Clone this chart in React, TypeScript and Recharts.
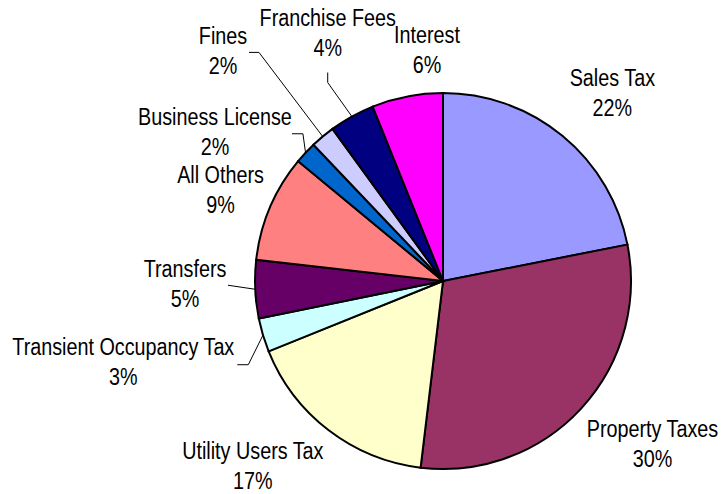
import React from "react";
import { PieChart, Pie, Cell } from "recharts";

const categories = [
  "Sales Tax",
  "Property Taxes",
  "Utility Users Tax",
  "Transient Occupancy Tax",
  "Transfers",
  "All Others",
  "Business License",
  "Fines",
  "Franchise Fees",
  "Interest",
];
const shares = [21.9, 30.0, 17.0, 2.9, 5.0, 9.2, 1.9, 2.1, 3.9, 6.1];
const colors = [
  "#9999FF",
  "#993366",
  "#FFFFCC",
  "#CCFFFF",
  "#660066",
  "#FF8080",
  "#0066CC",
  "#CCCCFF",
  "#000080",
  "#FF00FF",
];

const data = categories.map((name, i) => ({ name, value: shares[i] }));

// label placement: angular shift from slice mid-angle (deg, clockwise), distance from center
const labelLayout = [
  { shift: 2.6, dist: 253 },
  { shift: -4.8, dist: 266 },
  { shift: 8.2, dist: 266 },
  { shift: 2.4, dist: 330 },
  { shift: 1.8, dist: 258 },
  { shift: -1, dist: 240 },
  { shift: -10, dist: 272 },
  { shift: -4, dist: 318 },
  { shift: 4, dist: 273 },
  { shift: 7, dist: 231 },
];
// leader lines: points relative to label center (elbow, end); null = no line
const leaders: ([number, number][] | null)[] = [
  null,
  null,
  null,
  [
    [125, 2],
    [114, 2],
  ],
  [[43, 1]],
  null,
  [
    [88, 1],
    [77, 1],
  ],
  [
    [36, 1],
    [26, 1],
  ],
  [
    [0, 49],
    [0, 39],
  ],
  null,
];

const FONT = "'Liberation Sans', Arial, sans-serif";
const NARROW = 0.86;

const Line = ({ x, y, children }: { x: number; y: number; children: React.ReactNode }) => (
  <text
    x={0}
    y={0}
    transform={`translate(${x},${y}) scale(${NARROW},1)`}
    textAnchor="middle"
    dominantBaseline="central"
    fontFamily={FONT}
    fontSize={23}
    fill="#000"
  >
    {children}
  </text>
);

const renderLabel = (props: any) => {
  const { cx, cy, midAngle, outerRadius, index, percent, name } = props;
  const lay = labelLayout[index];
  // recharts midAngle: degrees counterclockwise from 3 o'clock
  const clockFromTop = 90 - midAngle; // degrees clockwise from 12 o'clock
  const a = ((clockFromTop + lay.shift) * Math.PI) / 180;
  const lx = cx + lay.dist * Math.sin(a);
  const ly = cy - lay.dist * Math.cos(a);
  const m = (clockFromTop * Math.PI) / 180;
  const ex = cx + outerRadius * Math.sin(m);
  const ey = cy - outerRadius * Math.cos(m);
  const lead = leaders[index];
  let path: string | null = null;
  if (lead) {
    path = `M${ex},${ey}` + lead.map(([dx, dy]) => ` L${lx + dx},${ly + dy}`).join("");
  }
  return (
    <g key={`lbl-${index}`}>
      {path && <path d={path} stroke="#000" strokeWidth={1} fill="none" />}
      <Line x={lx} y={ly - 15}>
        {name}
      </Line>
      <Line x={lx} y={ly + 15}>
        {`${Math.round(percent * 100)}%`}
      </Line>
    </g>
  );
};

export default function App() {
  return (
    <div style={{ position: "absolute", left: 0, top: 0, width: 722, height: 494, background: "#fff" }}>
      <PieChart width={722} height={494} margin={{ top: 0, right: 0, bottom: 0, left: 0 }}>
        <Pie
          data={data}
          dataKey="value"
          nameKey="name"
          cx={443}
          cy={281}
          outerRadius={188}
          startAngle={90}
          endAngle={-270}
          stroke="#000"
          strokeWidth={2}
          label={renderLabel}
          labelLine={false}
          isAnimationActive={false}
        >
          {data.map((d, i) => (
            <Cell key={d.name} fill={colors[i]} />
          ))}
        </Pie>
      </PieChart>
    </div>
  );
}
